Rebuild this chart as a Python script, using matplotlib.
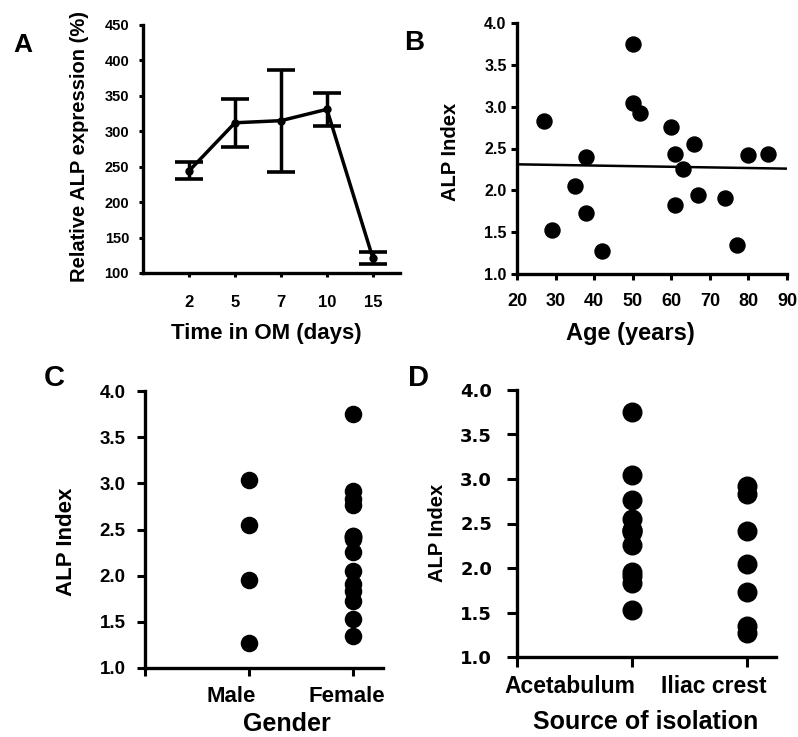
import numpy as np
import matplotlib
matplotlib.use("Agg")
import matplotlib.pyplot as plt
from matplotlib.transforms import ScaledTranslation

# panel A: ALP expression over time in osteogenic medium (mean +/- SEM)
time_days = ["2", "5", "7", "10", "15"]
alp_expr = [244, 312, 315, 331, 121]
alp_sem = [12, 34, 72, 23, 8]

# panels B-D: one ALP index per donor
donor_age = [27, 29, 35, 38, 38, 42, 50, 50, 52, 60, 61, 61, 63, 66, 67, 74, 77, 80, 85]
donor_alp = [2.83, 1.53, 2.05, 1.73, 2.40, 1.27, 3.75, 3.04, 2.92, 2.76,
             2.43, 1.83, 2.26, 2.55, 1.95, 1.91, 1.35, 2.42, 2.43]
donor_sex = ["F", "F", "F", "F", "F", "M", "F", "M", "F", "F",
             "F", "F", "F", "M", "M", "F", "F", "F", "F"]
donor_site = ["IC", "AC", "IC", "IC", "AC", "IC", "AC", "AC", "IC", "AC",
              "AC", "AC", "AC", "AC", "AC", "AC", "IC", "IC", "AC"]
gender_labels = ["Male", "Female"]
site_labels = ["Acetabulum", "Iliac crest"]

plt.rcParams["font.family"] = ["Liberation Sans", "DejaVu Sans"]
plt.rcParams["font.weight"] = "bold"

W, H = 798, 737
fig = plt.figure(figsize=(W / 100, H / 100), dpi=100)


def box(l, t, r, b):
    return [l / W, 1 - b / H, (r - l) / W, (b - t) / H]


def ftext(x, y, s, size, rot=0, **kw):
    fig.text(x / W, 1 - y / H, s, fontsize=size, fontweight="bold", rotation=rot,
             ha="center", va="center", **kw)


def style(ax, tlen, pad_x, pad_y):
    for s in ["top", "right"]:
        ax.spines[s].set_visible(False)
    for s in ["left", "bottom"]:
        ax.spines[s].set_linewidth(2.4)
    ax.tick_params(axis="x", direction="out", length=tlen, width=2.2, pad=pad_x)
    ax.tick_params(axis="y", direction="out", length=tlen, width=2.2, pad=pad_y)


def shift(labels, dxs):
    for lab, dx in zip(labels, dxs):
        lab.set_transform(lab.get_transform() + ScaledTranslation(dx / 100, 0, fig.dpi_scale_trans))


# A
axA = fig.add_axes(box(143, 25, 400, 273))
xa = np.arange(1, len(time_days) + 1)
axA.errorbar(xa, alp_expr, yerr=alp_sem, color="k", lw=2.5, marker="o", ms=5,
             capsize=10, capthick=2.6, elinewidth=2.5)
axA.set_xlim(0, 5.59)
axA.set_ylim(100, 450)
axA.set_xticks(xa, time_days)
axA.set_yticks(range(100, 451, 50))
style(axA, 3, 13, 7)
axA.tick_params(axis="x", labelsize=12)
axA.tick_params(axis="y", labelsize=10.5)
ftext(80, 146, "Relative ALP expression (%)", 14.5, rot=90)
ftext(266, 334, "Time in OM (days)", 16)
ftext(23, 45, "A", 19)

# B
axB = fig.add_axes(box(517, 23, 787, 274))
axB.scatter(donor_age, donor_alp, s=117, color="k", zorder=3)
k, b0 = np.polyfit(donor_age, donor_alp, 1)
xl = np.array([20, 90])
axB.plot(xl, k * xl + b0, color="k", lw=1.8)
axB.set_xlim(20, 90)
axB.set_ylim(1, 4)
axB.set_xticks(range(20, 91, 10))
axB.set_yticks(np.arange(1, 4.01, 0.5), [f"{v:.1f}" for v in np.arange(1, 4.01, 0.5)])
style(axB, 4.5, 9, 3)
axB.tick_params(axis="x", labelsize=13)
axB.tick_params(axis="y", labelsize=11.5)
axB.patch.set_visible(False)
ftext(450, 152, "ALP Index", 14.5, rot=90)
ftext(630, 333, "Age (years)", 17)
ftext(414, 43, "B", 20)

yt = np.arange(1, 4.01, 0.5)
ylabs = [f"{v:.1f}" for v in yt]

# C
axC = fig.add_axes(box(145, 391, 383, 668))
for i, g in enumerate(["M", "F"]):
    vals = [a for a, s in zip(donor_alp, donor_sex) if s == g]
    axC.scatter([i + 1] * len(vals), vals, s=135, color="k", zorder=3, clip_on=False)
axC.set_xlim(0, 2.29)
axC.set_ylim(1, 4)
axC.set_xticks([0, 1, 2], [""] + gender_labels)
axC.set_yticks(yt, ylabs)
style(axC, 6, 7, 8)
axC.tick_params(axis="x", labelsize=16)
axC.tick_params(axis="y", labelsize=13.5)
shift(axC.get_xticklabels(), [0, -18, -6])
ftext(67, 542, "ALP Index", 16, rot=90)
ftext(287, 724, "Gender", 18)
ftext(54, 378, "C", 21)

# D
axD = fig.add_axes(box(517, 390, 776, 657))
for i, g in enumerate(["AC", "IC"]):
    vals = [a for a, s in zip(donor_alp, donor_site) if s == g]
    axD.scatter([i + 1] * len(vals), vals, s=180, color="k", zorder=3, clip_on=False)
axD.set_xlim(0, 2.25)
axD.set_ylim(1, 4)
axD.set_xticks([0, 1, 2], [""] + site_labels)
axD.set_yticks(yt, ylabs)
style(axD, 7, 6, 11)
axD.tick_params(axis="x", labelsize=16.5)
axD.tick_params(axis="y", labelsize=13)
for lab in axD.get_yticklabels():
    lab.set_family("DejaVu Sans")
shift(axD.get_xticklabels(), [0, -62, -33])
ftext(437, 533, "ALP Index", 14.5, rot=90)
ftext(646, 722, "Source of isolation", 18)
ftext(419, 378, "D", 21)

fig.savefig("out.png", dpi=100)
